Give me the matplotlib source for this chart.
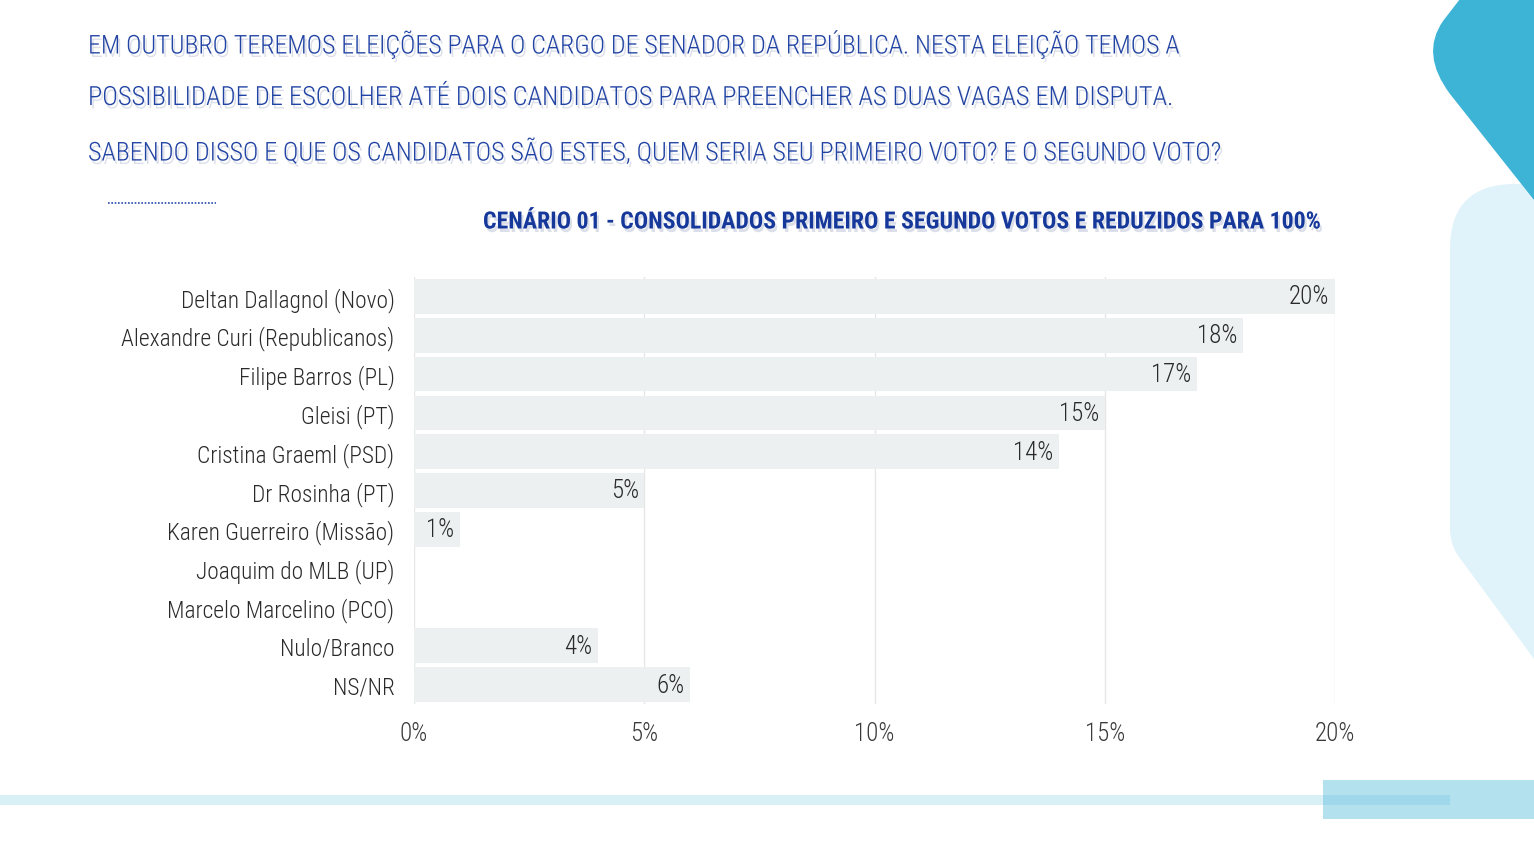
import matplotlib
matplotlib.use("Agg")
import matplotlib.pyplot as plt
import matplotlib.patheffects as pe
from matplotlib.path import Path
from matplotlib.patches import PathPatch, Rectangle

plt.rcParams['font.family'] = ['Roboto Condensed', 'Lato', 'DejaVu Sans']

# dados
candidatos = ["Deltan Dallagnol (Novo)", "Alexandre Curi (Republicanos)", "Filipe Barros (PL)",
              "Gleisi (PT)", "Cristina Graeml (PSD)", "Dr Rosinha (PT)", "Karen Guerreiro (Missão)",
              "Joaquim do MLB (UP)", "Marcelo Marcelino (PCO)", "Nulo/Branco", "NS/NR"]
percentuais = [20, 18, 17, 15, 14, 5, 1, 0, 0, 4, 6]
xticks = [0, 5, 10, 15, 20]
xtick_labels = ["0%", "5%", "10%", "15%", "20%"]

pergunta = ["EM OUTUBRO TEREMOS ELEIÇÕES PARA O CARGO DE SENADOR DA REPÚBLICA. NESTA ELEIÇÃO TEMOS A",
            "POSSIBILIDADE DE ESCOLHER ATÉ DOIS CANDIDATOS PARA PREENCHER AS DUAS VAGAS EM DISPUTA.",
            "SABENDO DISSO E QUE OS CANDIDATOS SÃO ESTES, QUEM SERIA SEU PRIMEIRO VOTO? E O SEGUNDO VOTO?"]
titulo = "CENÁRIO 01 - CONSOLIDADOS PRIMEIRO E SEGUNDO VOTOS E REDUZIDOS PARA 100%"

W, H = 1534, 862
fig = plt.figure(figsize=(W / 100, H / 100), dpi=100)
fig.patch.set_facecolor("white")

# fundo com as formas decorativas (coordenadas em pixels)
bg = fig.add_axes([0, 0, 1, 1], zorder=0)
bg.set_xlim(0, W)
bg.set_ylim(H, 0)
bg.axis("off")

light = Path([(1534, 185), (1515, 185), (1450, 185), (1450, 250), (1450, 530), (1450, 548),
              (1462, 562), (1534, 660), (1534, 185)],
             [Path.MOVETO, Path.LINETO, Path.CURVE3, Path.CURVE3, Path.LINETO, Path.CURVE3,
              Path.CURVE3, Path.LINETO, Path.CLOSEPOLY])
bg.add_patch(PathPatch(light, facecolor="#e1f3fa", edgecolor="none"))

teal = Path([(1534, 0), (1460, 0), (1443, 22), (1420, 55), (1450, 95), (1534, 201), (1534, 0)],
            [Path.MOVETO, Path.LINETO, Path.LINETO, Path.CURVE3, Path.CURVE3, Path.LINETO, Path.CLOSEPOLY])
bg.add_patch(PathPatch(teal, facecolor="#3db4d6", edgecolor="none"))

bg.add_patch(Rectangle((0, 796), 1323, 10, facecolor="#d9f0f7", edgecolor="none"))
bg.add_patch(Rectangle((1323, 781), 211, 39, facecolor="#b3e2ee", edgecolor="none"))
bg.add_patch(Rectangle((1323, 796), 127, 10, facecolor="#9fd8ea", edgecolor="none"))

bg.plot([108, 216], [204, 204], color="#2a4bb0", linestyle=(0, (1, 1)), linewidth=1.2)

renderer = fig.canvas.get_renderer()


def fit_text(t, width_px):
    # ajusta o tamanho da fonte para ocupar a largura desejada
    for _ in range(3):
        w = t.get_window_extent(renderer).width
        t.set_fontsize(t.get_fontsize() * width_px / w)


sombra = [pe.withSimplePatchShadow(offset=(1.5, -2.5), shadow_rgbFace="#9aa4c0", alpha=0.35)]

linhas_y = [45, 99, 153]
larguras = [1092, 1085, 1136]
for txt, y, w in zip(pergunta, linhas_y, larguras):
    t = bg.text(88, y, txt, color="#2143a3", fontsize=24, fontweight="light", ha="left",
                va="center", path_effects=sombra)
    fit_text(t, w)

t = bg.text(483, 223, titulo, color="#15389a", fontsize=20, fontweight="bold", ha="left",
            va="center", path_effects=sombra)
fit_text(t, 839)

# gráfico
ax = fig.add_axes([414 / W, 1 - 705 / H, 921 / W, 427 / H], zorder=2)
ax.patch.set_alpha(0)
y = list(range(len(candidatos)))
ax.barh(y, percentuais, height=0.89, color="#ecf0f1", zorder=2)
ax.set_xlim(0, 20)
ax.set_ylim(len(candidatos) - 0.5, -0.5)

for xv in xticks:
    ax.axvline(xv, color="#e6e6e6", linewidth=1, zorder=1)

for i, v in enumerate(percentuais):
    if v > 0:
        ax.text(v - 0.12, i, f"{v}%", ha="right", va="center", fontsize=18, fontweight="light",
                color="#2a2a2a", zorder=3)

for s in ax.spines.values():
    s.set_visible(False)
ax.set_xticks(xticks)
ax.set_xticklabels(xtick_labels, fontweight="light")
ax.set_yticks(y)
ax.set_yticklabels(candidatos, fontweight="light")
ax.tick_params(axis="x", length=0, pad=12, labelsize=18, labelcolor="#3a3a3a")
ax.tick_params(axis="y", length=0, pad=14, labelsize=15, labelcolor="#2a2a2a")

# largura do rótulo mais longo: ~273 px
lab = ax.get_yticklabels()[1]
w = lab.get_window_extent(renderer).width
ax.tick_params(axis="y", labelsize=15 * 273 / w)

fig.savefig("out.png", dpi=100, facecolor="white")
